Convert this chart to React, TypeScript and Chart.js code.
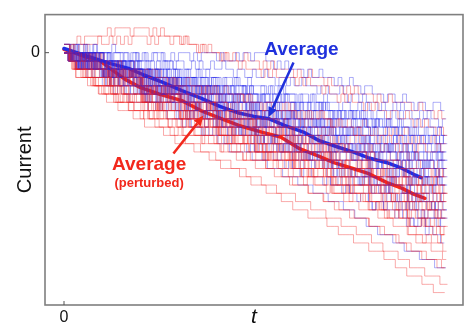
import { useEffect, useRef } from 'react';
import { Chart, registerables } from 'chart.js';

Chart.register(...registerables);

const FONT = "'Liberation Sans', Arial, Helvetica, sans-serif";

// Axis ranges (time in steps, current in units) and the single labelled tick on each axis.
const T_RANGE = [-5, 105];
const CURRENT_RANGE = [-30.5, 4.6];
const T_TICKS = [0];
const CURRENT_TICKS = [0];

// Each trace is a string of base-36 digits, one per time step.
// A digit d means current = CURRENT_OF_DIGIT_ZERO - d; spaces only group steps by ten.
const CURRENT_OF_DIGIT_ZERO = 4;

const CONTROL_TRACES = [
  '4443434444 4454444545 5454445545 4445454444 5455545445 4445565656 6667677677 7878878898 8999a99aa9 aabaabbaab',
  '3343344344 4434455445 4554545565 5665656656 6566766776 7767787787 8878889889 9989a99a9a aababbabab bccbcbccdc',
  '4454545454 5455656565 6566565667 6767767677 7877878878 8889898899 9a99a9aa9a aabaabbaba bcbbccbcbc cdcdccddde',
  '3434434344 4544545545 5656656566 7677677877 8788788989 9898998999 a9aa9aabab bbcbbcbccb cdcdcddcdd edeedeeefe',
  '4545454455 5656565666 6767676777 7878787788 8988989899 9a9a9aa9aa abababbabb cbcbccbccd cdcdeddede efefeffefg',
  '4455454555 5656656676 7676777878 8787888989 9898999a9a a9aaabaaba bbcbcbbccb cdcddcddcd edeeefefef fgffgfgggh',
  '3434445454 5455656566 6767677878 8787889898 9a99a9aaab ababbbcbcb cbccdcdcdd deedeefefe fgfgfgghgg hghhihhihi',
  '4545455455 6565666767 7677878787 8898989a99 a9aabaabab bcbccbcdcd dcddeddede efeffgfgfg ghghghhihh iijijiijij',
  '4455455656 6566767677 8787889898 99a9aa9aab abbabbcbcb ccdcdcdded eedeefefef fgfggghghh ihiiijijij jkjjkjkkjk',
  '3444545565 6566767777 8788898999 a9aabaabbb cbbcbccdcc dcdddeddee efeeffgffg ghggghhhgh iihijiijji kjkkjklkkl',
  '4555656666 7676777878 8989899a9a aabaabbcbb cbccdcdcdd eddeeeffef fgffggghgg hhihhiiiji jjkjkkjkkl kllmllmlml',
  '4556565667 7677878889 8999a9aaab aabbbcbccb cddcddeded eeffefgfgg fgghgghhhi hiiijijjji jkkkljkkll lmlmmmnmmn',
  '4555666776 7787889898 99aa9aabab bbcbccbccd cdddedeeed eeffeffgfg gghghghhih iijiijjkjj kkklkllmll mmnmmnnono',
  '4556666777 8788899989 9aaaabaabb bcbcccdccd ddeedeeefe ffgffggggh hhghhiihii jijjkjjkkk lllmlmmmnm nnonooopoo',
  '4556667777 8889899aaa aabbabbccc cdcdddeded eefeffffgf gghgghhhih iijiijjjkj kkklkllmll mnmmnnnono ooppoqpqqr',
  '4455566666 7777888999 9aaaabbbbc cccdddeeee fffggggggh hhhiiiijjj jkkkkllllm mmmnnnooop ppqqqqrrrs sssttttuuu',
  '4545545454 5665656566 6767767676 7877878787 8989988989 9a99aa9a9a abaabbabab bcbbcbccbc cdccdcddcd dedeeddede',
  '4554545565 6565665656 7676776767 8787878878 9898998989 a9aa9aa9aa babbabbabb cbccbccbcd dcddcddedd eeeffeefef',
  '4545565545 5665656676 7677676787 8898889898 9a99a9a99a abaabababb bcbbcbcbcc dcdcddcdcd edeeededee fefffeffgf',
  '4556545454 6566767656 7878777878 9898989899 a9aa9aa9aa bbcbbabbcb cdcccdcdcc deddeededd fefeffefff gfgghggfgg',
  '3445454554 5656566656 7677878787 8989898898 99a9aa9aab abbabbcbbb ccdcccdcdc dedeededee ffeffgfeff gghgghgghg',
  '4545566556 6767667676 7878787887 9898999898 aaba9aabaa bcbbcbbcbc dcddcdcddc efeededeff fgffgffgfg hghhihghhh',
  '4455455656 6676566767 8787878898 9899989a99 aabaabaaba bbcbbcbccb ccdcddcddd eeededeefe gffgfgfggf hhghhihhgh',
  '4556545656 6767766776 7878887878 99a9898a99 abaabaabab cbccbcdccb dededdeded fefeffgfef ghgggfghgg ihiihiijhi',
  '4454556566 6667677677 8878989899 9aa9a9aa9a babbabbbcb ccdcccdcdc ddeedeeded effeffgfgf gghgggghgh hiihiihiii',
  '4556554566 6767667767 8989788989 9aa9aa9aaa babbcbbabb cdcdccddcd eededeefee fgffgfggfg hhghhihhih jijjijjkjj',
  '4545656656 7676767787 8889898989 aa9aa9abaa bbcbbcbbcb dcdcddcdcd eefeeeefef gfggfgghgg hhihhhihii ijjijjjijk',
  '4556545667 6776766777 8988989898 a9aabaa9ab cbbcbcbcbb dcdddedcdd feffefeffg gggfghgggh iihiijiihi kjkkjkkjkk',
  '4556565656 6777676787 8989898998 aabaabaaba cbccbcccdc ededdeeded fgffgffgff hhihghhihh jjijjkjjij lkllklkllm',
  '4556565656 7677877676 9898999989 aabbabbaab cdcccdcdcc efeefeeefe gfgghggggf iihiiiiiji kjkkkljkkk mlmmlmmnmm',
  '4556565566 7676787778 9a99898a99 babbabcbba dcddcdedcd fefeffgfef hggghhghhg jiijjijkjj lkllkllmll nmnnonmnnn',
  '4556656566 7878778787 9aa9a9aa9a cbbcbcbccb deedededde gfgggfhggf iihiihiiij kkjkklkkkj mnmmnmmnmm popoopooop',
];

const PERTURBED_TRACES = [
  '3432322222 2121111211 1121212222 3233343444 4545455455 5656566666 7677677787 8889898999 9a9aa9aaaa abbabbbcbc',
  '4343333323 3232323222 2323222322 3233434344 5455565666 6767677777 8787888989 9a9a9aaaba babbcbbccb cdcdcddede',
  '4454555656 6566566767 7676777878 8878889898 9989999a9a aabaabbbab bcbcbccbcc ddcdddedee eefefeffef ffgffgggfg',
  '3444545566 6767677787 8898989999 a9aaabaabb bcbbcbcccd cdcdddeded eefeeffeff fgfggggggh ghhhhihhii iiijiijjij',
  '4556566767 7787878898 99a99aaaba abbbcbbccb cdccddcdde deeeeffefe ffgfgggghg hhhihiihii ijjijjjkjj jkkjkkkjkk',
  '4555666777 7888989999 a9aabaabbb bcbccbcccd cddededeee effefffggf gghgghhhgh hiihiiiiji jjjkjjkkjk kkklkkllkl',
  '4556667778 8889899a9a aabababbbc ccbccdcdcd ddeedeeeef effffgfggg hghhhhihii iiijijjjjk jkkkkklkkl lllmllmlml',
  '3455566777 8789899a99 aaabababbb cbcccdccdd deddeeefee fffgffgggh gghhhhiihi iijjjijjkk kkklkllllm lmmmmnmmmn',
  '4556677788 8899999aaa babbbcbccc cdcdddeded eeefeffeff ggfgghgghh hhihiiiiji jjjkjjkkkk llklllmlmm mmnmnnnnon',
  '4566677888 9899a9aaaa bbbcbbcccd ccddddeeed eeffefffgg gghgghhhhi hiiiijiijj jkjjkkkkll kllmllmmmn mnnnonnooo',
  '4566777888 999aa9aabb bbcbcccdcd ddddeeeeef effffgfggg hhghhhiihi iijjijjjkj kkkllkllll mmmnmmnnnn onoooopopp',
  '4567777889 999aaaabbb cbcccdddde deeeeefeff fgffggghgh hhhiihiiij jjjkjjkkkl kllllmllmm nnmnnoonoo opppoppqpq',
  '4566677777 8888899999 aaaabbbbbb cccccddddd eeeeffffff gggghhhhhh iiiiijjjjj kkkkllllmm mmnnnooooo ppqqqqrrrs',
  '4556667788 8899aaaabb bbcccccddd deeeeeffff fgggghhhhh iiiiijjjjk kkkkllllmm mmnnnnoooo ppppqqqrrr rssssttttu',
  '4566777889 999aaabbbb cccddddeee effffggggh hhhiiiijjj jkkkklllll mmmmnnnnoo ooppppqqqq rrrssssttt uuuuvvvvww',
  '4567778889 9aaabbbbcc cdddddeeef ffffgggghh hiiiiijjjk kkkllllmmm nnnnooooop ppqqqqrrrr sssstttuuu vvvvwwwxxx',
  '4344545454 5656566566 7677677878 8898889898 9a99a99a9a abaabaabba bccbcbcbcc dcddcdddcd edeededeed fefeffefff',
  '4545435454 6565667676 7878787887 9899898999 aaabaa9aab bcbbcbbcbb ddcdcddddc efeefeeeef gffgfggfgf hhghhhhihh',
  '4554545445 6767666767 8787898878 9a99a99aa9 aabababbab ccbcccdccb dededdeded fffgffefff ghggghhggg iihiiiiiji',
  '4455454545 6676676766 8989889898 9aaa9aa9aa bbabbcbbcb ccdcdcddcd eeeffeefee fgfgfggffg hihhihhhih jijjkjjijj',
  '4544555456 6767766767 8999898999 abaabaabab bcbcbccbcc deddeddedd effeffeffg ghggghhggh iijiijiiij kjkkkjkkll',
  '4555454656 7676677677 8898998988 aa9abaabaa cbcbccbcbc ddeddcdeed feffeffgff hghhghhggh ijiiiijiij jkkjkkkjkk',
  '4554545566 6767766778 8989999a99 abababbaab ccbccdcccd deeddeedde fggffgfgfg hhihhhihhi jjjijkjjij llklllklml',
  '4455556566 7676777677 9898999a99 aabbaabbab cccdcbccdc eedededeee ffgffgffgf hhhihhghhh ijjjijjjkj kllkllklll',
  '4545565456 7677676777 9a99a99a99 bbaabbbabb cdcdccddcd eefeefeeef gghgggghgg iiiiijiihi kkjkkkjkkl mmlmmmmnmm',
  '4455456566 6777877677 9899a99899 abbabbbbab ddcdccdcdd efeeffeefe hgghggghgh iiijiiiiii kkkkjkkkkl mmmlmnmmmm',
  '4555455666 7787767787 9aa99a9a9a bbcbbbcbbc dddedddedd ffgffeffgf hhhghhhihh jjjjkjjiij lllkllmlkl nnnonmnnno',
  '4556545666 7878777877 a9aa9aaaaa cbcbcbccbc deedeeeded gfggggfggh iiihiiiihi jkkkkjkkkk mmmlmmmnmm oooopoonoo',
  '4556555666 7878787787 aaaabaaa9a cccbccdccc eeeeffeeee gghgggghgg iiijiiiiii kkkklkkkkk mmmnmmmnmm pppoppppqp',
  '4556665666 7788777878 aaaabaaaab ccccdcccdc eeffeeefef gghhggghhg jjiijjjjij llllkllllm nnnnonnnon qqqqrqqqrq',
  '4455566666 7777788888 aaaabbbbbb ccdddddddd eeefffffgg ggghhhhiii iijjjkkkkk lllmmmmnnn nnoooopppp qqrrrrssst',
  '4456666777 7788888999 aabbbbbccc cdddeeeeee fffgggghhh hhhiiiijjj kkkkllllmm mnnnnooooo pppqqqqqrr ssssttttuu',
];

// Switching times of each trace are offset by a fraction of a step.
const CONTROL_PHASE = [0.12, 0.57, 0.33, 0.81, 0.05, 0.69, 0.44, 0.91, 0.26, 0.62, 0.18, 0.75, 0.39, 0.97, 0.08, 0.52, 0.29, 0.86, 0.14, 0.66, 0.47, 0.93, 0.21, 0.71, 0.36, 0.02, 0.59, 0.84, 0.24, 0.49, 0.77, 0.11];
const PERTURBED_PHASE = [0.41, 0.88, 0.16, 0.63, 0.31, 0.95, 0.07, 0.54, 0.23, 0.79, 0.46, 0.03, 0.68, 0.35, 0.92, 0.19, 0.58, 0.27, 0.83, 0.1, 0.64, 0.38, 0.89, 0.06, 0.51, 0.74, 0.2, 0.45, 0.98, 0.32, 0.6, 0.15];

// Ensemble averages of the two sets.
const AVERAGE_T = [0, 4, 8, 12, 17, 21, 26, 31, 36, 41, 46, 50, 54, 58, 63, 67, 72, 76, 80, 85, 89, 92, 94];
const AVERAGE_CURRENT = [0.5, -0.1, -0.7, -1.3, -1.9, -2.7, -3.6, -4.6, -5.5, -6.5, -7.3, -7.7, -8.0, -8.8, -9.6, -10.6, -11.4, -12.0, -12.7, -13.3, -14.0, -14.7, -15.1];
const PERTURBED_AVERAGE_T = [0, 5, 9.5, 13, 16, 20, 25, 31, 36, 41, 46, 52, 57, 62, 67, 71, 76, 80, 85, 89, 92, 95];
const PERTURBED_AVERAGE_CURRENT = [0.4, -0.4, -1.0, -2.2, -3.2, -4.2, -5.0, -5.8, -7.0, -7.9, -8.8, -9.6, -10.2, -11.6, -12.5, -13.3, -14.0, -14.6, -15.7, -16.4, -17.1, -17.6];

// Callout labels: text anchor and arrow (tail -> head) in data coordinates.
const CALLOUTS = [
  { lines: ['Average'], color: '#1f30dc', at: [62.5, 0.35], tail: [60.4, -1.2], head: [53.8, -7.8] },
  { lines: ['Average', '(perturbed)'], color: '#f2281c', at: [22.4, -13.5], tail: [28.8, -12.2], head: [36.7, -7.6] },
];

const CONTROL_COLOR = 'rgba(40, 40, 235, 0.38)';
const PERTURBED_COLOR = 'rgba(240, 35, 35, 0.38)';

function decodeTrace(code: string, phase: number) {
  const digits = code.replace(/[^0-9a-z]/g, '');
  const pts: { x: number; y: number }[] = [{ x: 0, y: CURRENT_OF_DIGIT_ZERO - parseInt(digits[0], 36) }];
  for (let i = 1; i < digits.length; i++) {
    pts.push({ x: i + phase, y: CURRENT_OF_DIGIT_ZERO - parseInt(digits[i], 36) });
  }
  pts.push({ x: digits.length + phase, y: pts[pts.length - 1].y });
  return pts;
}

function zip(ts: number[], vs: number[]) {
  return ts.map((t, i) => ({ x: t, y: vs[i] }));
}

function drawArrow(ctx: CanvasRenderingContext2D, x0: number, y0: number, x1: number, y1: number, color: string) {
  const ang = Math.atan2(y1 - y0, x1 - x0);
  const headLen = 10;
  const headHalf = 4.5;
  const bx = x1 - headLen * Math.cos(ang);
  const by = y1 - headLen * Math.sin(ang);
  ctx.strokeStyle = color;
  ctx.fillStyle = color;
  ctx.lineWidth = 2.5;
  ctx.beginPath();
  ctx.moveTo(x0, y0);
  ctx.lineTo(bx, by);
  ctx.stroke();
  ctx.beginPath();
  ctx.moveTo(x1, y1);
  ctx.lineTo(bx + headHalf * Math.sin(ang), by - headHalf * Math.cos(ang));
  ctx.lineTo(bx - headHalf * Math.sin(ang), by + headHalf * Math.cos(ang));
  ctx.closePath();
  ctx.fill();
}

const framePlugin = {
  id: 'frameAndCallouts',
  afterDatasetsDraw(chart: any) {
    const { ctx, chartArea: a, scales } = chart;
    const xs = scales.x;
    const ys = scales.y;
    ctx.save();
    ctx.strokeStyle = '#7f7f7f';
    ctx.lineWidth = 1.6;
    ctx.strokeRect(a.left, a.top, a.right - a.left, a.bottom - a.top);

    // short inward tick marks
    ctx.strokeStyle = '#555';
    ctx.lineWidth = 1;
    for (const t of T_TICKS) {
      const px = xs.getPixelForValue(t);
      ctx.beginPath();
      ctx.moveTo(px, a.bottom);
      ctx.lineTo(px, a.bottom - 4);
      ctx.stroke();
    }
    for (const c of CURRENT_TICKS) {
      const py = ys.getPixelForValue(c);
      ctx.beginPath();
      ctx.moveTo(a.left, py);
      ctx.lineTo(a.left + 4, py);
      ctx.stroke();
    }

    for (const c of CALLOUTS) {
      drawArrow(
        ctx,
        xs.getPixelForValue(c.tail[0]), ys.getPixelForValue(c.tail[1]),
        xs.getPixelForValue(c.head[0]), ys.getPixelForValue(c.head[1]),
        c.color,
      );
      const cx = xs.getPixelForValue(c.at[0]);
      let cy = ys.getPixelForValue(c.at[1]);
      ctx.fillStyle = c.color;
      ctx.textAlign = 'center';
      ctx.textBaseline = 'middle';
      c.lines.forEach((line, i) => {
        ctx.font = i === 0 ? `bold 19px ${FONT}` : `bold 13px ${FONT}`;
        ctx.fillText(line, cx, cy);
        cy += 19;
      });
    }
    ctx.restore();
  },
};

export default function App() {
  const canvasRef = useRef<HTMLCanvasElement | null>(null);

  useEffect(() => {
    const canvas = canvasRef.current;
    if (!canvas) return;

    const traceSets: any[] = [];
    const n = Math.max(CONTROL_TRACES.length, PERTURBED_TRACES.length);
    for (let i = 0; i < n; i++) {
      if (CONTROL_TRACES[i]) traceSets.push({ data: decodeTrace(CONTROL_TRACES[i], CONTROL_PHASE[i] ?? 0), borderColor: CONTROL_COLOR, borderWidth: 1, stepped: true, pointRadius: 0 });
      if (PERTURBED_TRACES[i]) traceSets.push({ data: decodeTrace(PERTURBED_TRACES[i], PERTURBED_PHASE[i] ?? 0), borderColor: PERTURBED_COLOR, borderWidth: 1, stepped: true, pointRadius: 0 });
    }

    const chart = new Chart(canvas, {
      type: 'line',
      data: {
        datasets: [
          ...traceSets,
          { data: zip(AVERAGE_T, AVERAGE_CURRENT), borderColor: '#1f30e6', borderWidth: 3.5, pointRadius: 0, borderCapStyle: 'round', borderJoinStyle: 'round' },
          { data: zip(PERTURBED_AVERAGE_T, PERTURBED_AVERAGE_CURRENT), borderColor: '#f5281a', borderWidth: 3.5, pointRadius: 0, borderCapStyle: 'round', borderJoinStyle: 'round' },
        ],
      },
      options: {
        responsive: false,
        animation: false,
        events: [],
        devicePixelRatio: 1,
        layout: { padding: { left: 0, top: 14, right: 12, bottom: 0 } },
        plugins: { legend: { display: false }, tooltip: { enabled: false } },
        scales: {
          x: {
            type: 'linear',
            min: T_RANGE[0],
            max: T_RANGE[1],
            afterBuildTicks: (s: any) => { s.ticks = T_TICKS.map((v) => ({ value: v })); },
            afterFit: (s: any) => { s.height = 31; },
            grid: { display: false, drawTicks: false },
            border: { display: false },
            ticks: { color: '#111', font: { family: FONT, size: 16 }, padding: 3, maxRotation: 0 },
            title: { display: true, text: 't', color: '#111', font: { family: FONT, size: 21, style: 'italic' }, padding: { top: 0, bottom: 6 } },
          },
          y: {
            type: 'linear',
            min: CURRENT_RANGE[0],
            max: CURRENT_RANGE[1],
            afterBuildTicks: (s: any) => { s.ticks = CURRENT_TICKS.map((v) => ({ value: v })); },
            afterFit: (s: any) => { s.width = 45; },
            grid: { display: false, drawTicks: false },
            border: { display: false },
            ticks: { color: '#111', font: { family: FONT, size: 16 }, padding: 5 },
            title: { display: true, text: 'Current', color: '#111', font: { family: FONT, size: 20 }, padding: { top: 13, bottom: 0 } },
          },
        },
      },
      plugins: [framePlugin],
    } as any);

    return () => chart.destroy();
  }, []);

  return (
    <div style={{ position: 'fixed', left: 0, top: 0, width: 475, height: 336, background: '#fff' }}>
      <canvas ref={canvasRef} width={475} height={336} />
    </div>
  );
}
